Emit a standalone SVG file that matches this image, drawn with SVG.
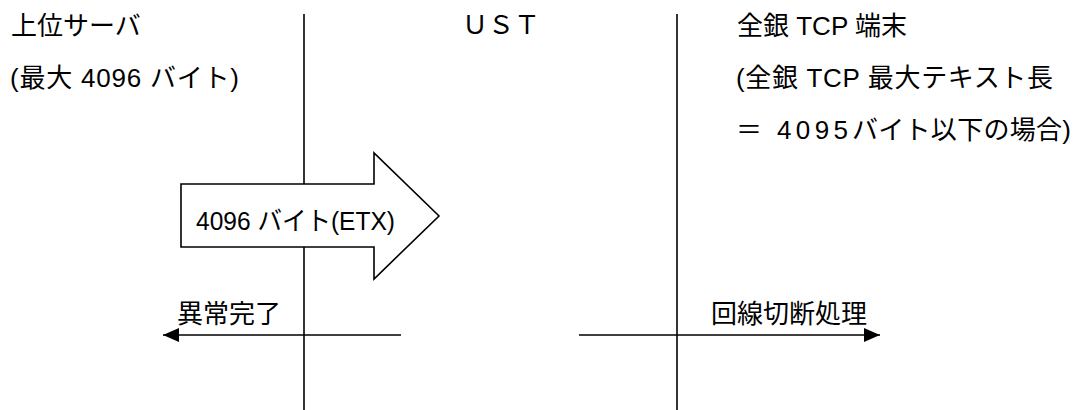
<svg xmlns="http://www.w3.org/2000/svg" width="1086" height="410" viewBox="0 0 1086 410">
<style>
text{font-family:"Liberation Sans","Noto Sans CJK JP",sans-serif;font-size:26px;fill:#000}
.ln{stroke:#000;stroke-width:1.6;fill:none}
</style>
<defs>
<marker id="ah" viewBox="0 0 16 14" refX="16" refY="7" markerWidth="16" markerHeight="14" markerUnits="userSpaceOnUse" orient="auto">
<path d="M0,0 L16,7 L0,14 Z" fill="#000"/>
</marker>
</defs>
<rect width="1086" height="410" fill="#fff"/>
<g id="lifelines">
<line class="ln" x1="304" y1="14" x2="304" y2="410"/>
<line class="ln" x1="677" y1="14" x2="677" y2="410"/>
</g>
<g id="server">
<text x="11" y="35">上位サーバ</text>
<text x="10" y="87" textLength="229" lengthAdjust="spacing">(最大 4096 バイト)</text>
</g>
<g id="ust">
<text x="462" y="34">ＵＳＴ</text>
</g>
<g id="terminal">
<text x="737" y="35">全銀 TCP 端末</text>
<text x="736" y="87" textLength="317" lengthAdjust="spacing">(全銀 TCP 最大テキスト長</text>
<text y="139"><tspan x="736">＝</tspan><tspan x="777" textLength="71" lengthAdjust="spacing">4095</tspan><tspan x="852" textLength="219" lengthAdjust="spacing">バイト以下の場合)</tspan></text>
</g>
<g id="connectors">
<g id="data-arrow">
<polygon points="181,184 374,184 374,153 439,216 374,279 374,247 181,247" fill="#fff" stroke="#000" stroke-width="1.6"/>
<text x="196" y="230" textLength="199" lengthAdjust="spacingAndGlyphs">4096 バイト(ETX)</text>
</g>
<g id="abnormal">
<line class="ln" x1="401" y1="335" x2="163" y2="335" marker-end="url(#ah)"/>
<text x="177" y="323">異常完了</text>
</g>
<g id="disconnect">
<line class="ln" x1="579" y1="335" x2="880" y2="335" marker-end="url(#ah)"/>
<text x="711" y="323">回線切断処理</text>
</g>
</g>
</svg>
